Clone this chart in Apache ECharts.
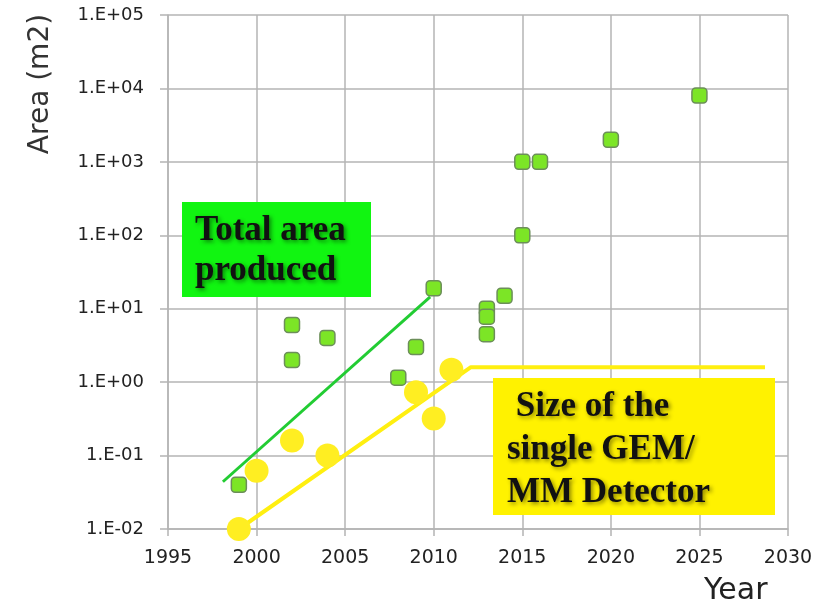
<!DOCTYPE html>
<html>
<head>
<meta charset="utf-8">
<script src="https://cdn.jsdelivr.net/npm/echarts@6/dist/echarts.min.js"></script>
<style>
  html, body { margin: 0; padding: 0; background: #fff; }
  #chart { width: 817px; height: 607px; }
</style>
</head>
<body>
<div id="chart"></div>
<script>
// values: [year, area m2]
const totalArea = [
  [1999, 0.04], [2002, 6], [2002, 2], [2004, 4], [2008, 1.15], [2009, 3],
  [2010, 19], [2013, 10], [2013, 7.8], [2013, 4.5], [2014, 15], [2015, 100],
  [2015, 1000], [2016, 1000], [2020, 2000], [2025, 8000]
];
const singleSize = [
  [1999, 0.01], [2000, 0.062], [2002, 0.16], [2004, 0.1],
  [2009, 0.73], [2010, 0.32], [2011, 1.47]
];
const totalTrend = [[1998.1, 0.044], [2009.8, 14.5]];
const sizeTrend = [[1999, 0.01], [2012.1, 1.6], [2028.7, 1.6]];

const xMin = 1995, xMax = 2030, xStep = 5;
const yMin = 0.01, yMax = 100000;

// 1.E+05 style labels
const sciLabel = (v) => {
  const e = Math.round(Math.log10(v));
  const s = e < 0 ? "-" : "+";
  return "1.E" + s + String(Math.abs(e)).padStart(2, "0");
};

const chart = echarts.init(document.getElementById("chart"));
const gridLine = { lineStyle: { color: "#b4b4b4", width: 1.5 } };
const font = "DejaVu Sans";
const boxText = {
  fontFamily: "Liberation Serif", fontWeight: "bold", fontSize: 35, fill: "#111",
  textShadowColor: "rgba(0,0,0,0.45)", textShadowBlur: 4, textShadowOffsetX: 2, textShadowOffsetY: 2,
};

const option = {
  animation: false,
  grid: { left: 168, right: 29, top: 15, bottom: 78 },
  xAxis: {
    type: "value",
    min: xMin,
    max: xMax,
    interval: xStep,
    axisLine: { show: true, lineStyle: { color: "#b4b4b4", width: 1.5 } },
    axisTick: { show: true, length: 7, lineStyle: { color: "#b4b4b4", width: 1.5 } },
    axisLabel: { fontFamily: font, fontSize: 19, color: "#222", margin: 20, formatter: (v) => String(v) },
    splitLine: Object.assign({ show: true }, gridLine),
  },
  yAxis: {
    type: "log",
    logBase: 10,
    min: yMin,
    max: yMax,
    axisLine: { show: true, lineStyle: { color: "#b4b4b4", width: 1.5 } },
    axisTick: { show: true, length: 8, lineStyle: { color: "#b4b4b4", width: 1.5 } },
    axisLabel: { fontFamily: font, fontSize: 18, color: "#222", margin: 24, formatter: sciLabel },
    splitLine: Object.assign({ show: true }, gridLine),
  },
  graphic: [
    {
      type: "text", x: 41, y: 84, rotation: Math.PI / 2,
      style: { text: "Area (m2)", fontFamily: font, fontSize: 28, fill: "#333", align: "center", verticalAlign: "middle" },
    },
    {
      type: "text", left: 704, top: 576,
      style: { text: "Year", fontFamily: font, fontSize: 30, fill: "#222" },
    },
    {
      type: "rect", shape: { x: 182, y: 202, width: 189, height: 95 },
      style: { fill: "#11f511" }, z: 10,
    },
    {
      type: "text", left: 195, top: 211, z: 11,
      style: Object.assign({ text: "Total area\nproduced", lineHeight: 40 }, boxText),
    },
    {
      type: "rect", shape: { x: 493, y: 378, width: 282, height: 137 },
      style: { fill: "#fff200" }, z: 10,
    },
    {
      type: "text", left: 507, top: 385, z: 11,
      style: Object.assign({ text: " Size of the\nsingle GEM/\nMM Detector", lineHeight: 43 }, boxText),
    },
  ],
  series: [
    {
      type: "line", data: totalTrend, symbol: "none", z: 3,
      lineStyle: { color: "#22cc33", width: 3 },
    },
    {
      type: "line", data: sizeTrend, symbol: "none", z: 3,
      lineStyle: { color: "#ffef10", width: 4 },
    },
    {
      type: "scatter", data: singleSize, symbol: "circle", symbolSize: 24, z: 4,
      itemStyle: { color: "#ffee22", opacity: 1 },
    },
    {
      type: "scatter", data: totalArea, symbol: "roundRect", symbolSize: 15, z: 5,
      itemStyle: { color: "#7ce526", borderColor: "#6c8e5a", borderWidth: 1.5, opacity: 1 },
    },
  ],
};

chart.setOption(option);
</script>
</body>
</html>
